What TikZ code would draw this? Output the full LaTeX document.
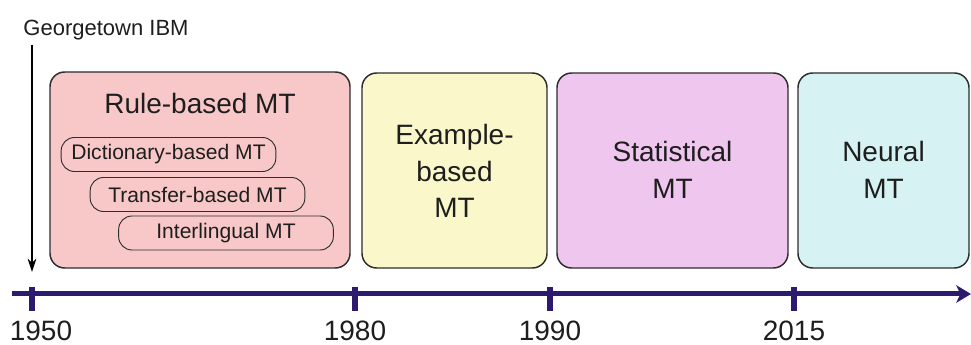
\documentclass[tikz,border=0pt]{standalone}
\usepackage{fontspec}
\setmainfont{Liberation Sans}
\usepackage{tikz}
\usetikzlibrary{arrows.meta}

\definecolor{boxline}{RGB}{45,45,45}
\definecolor{txtgray}{RGB}{30,30,30}
\definecolor{rulefill}{RGB}{248,200,200}
\definecolor{examplefill}{RGB}{250,248,202}
\definecolor{statfill}{RGB}{238,198,238}
\definecolor{neuralfill}{RGB}{214,242,242}
\definecolor{tlcolor}{RGB}{45,25,110}

\begin{document}
\begin{tikzpicture}[x=0.75pt,y=0.75pt,yscale=-1,xscale=1,
    era/.style={draw=boxline, line width=1.1pt, rounded corners=11pt, inner sep=0pt},
    subera/.style={draw=boxline, line width=0.7pt, rounded corners=10pt, inner sep=0pt,
        minimum width=161pt, minimum height=25.5pt, text=txtgray, font=\fontsize{15.8}{18}\selectfont},
    bigtxt/.style={align=center, text=txtgray, font=\fontsize{21}{27.5}\selectfont},
    yearlbl/.style={text=txtgray, inner sep=0pt, font=\fontsize{21}{25}\selectfont},
    tickmark/.style={draw=tlcolor, line width=4.5pt},
    timeline/.style={draw=tlcolor, line width=3.75pt, -{Stealth[length=11pt,width=13pt,inset=3pt]}}
    ]
        \useasboundingbox (0,0) rectangle (971,345);

        %Shape: Rounded Rect [id:rule]
        \node [era, fill=rulefill, minimum width=225pt, minimum height=147pt] (rule) at (200,170) {};
        %Shape: Rounded Rect [id:example]
        \node [era, fill=examplefill, minimum width=138.75pt, minimum height=146.25pt] (example) at (454.5,170.5) {};
        %Shape: Rounded Rect [id:stat]
        \node [era, fill=statfill, minimum width=173.25pt, minimum height=146.25pt] (stat) at (672.5,170.5) {};
        %Shape: Rounded Rect [id:neural]
        \node [era, fill=neuralfill, minimum width=128.25pt, minimum height=146.25pt] (neural) at (883.5,170.5) {};

        %Shape: Rounded Rect [id:dict]
        \node [subera] (dict) at (168.5,154.5) {Dictionary-based MT};
        %Shape: Rounded Rect [id:transfer]
        \node [subera] (transfer) at (197.5,194.5) {Transfer-based MT};
        %Shape: Rounded Rect [id:inter]
        \node [subera] (inter) at (226,233) {Interlingual MT};

        % Text Node
        \node [bigtxt] (ruletitle) at (200,103.5) {Rule-based MT};
        % Text Node
        \node [bigtxt] (exampletxt) at (454.5,171) {Example-\\based\\MT};
        % Text Node
        \node [bigtxt] (stattxt) at (672.5,170) {Statistical\\MT};
        % Text Node
        \node [bigtxt] (neuraltxt) at (883.5,170) {Neural\\MT};

        %Straight Lines [id:timeline]
        \coordinate (tlstart) at (12,294);
        \coordinate (tlend) at (971,294);
        \draw [timeline] (tlstart) -- (tlend);
        \foreach \x/\lx/\yr in {32/41/1950,355/355/1980,550/550/1990,794/794/2015}{
            \draw [tickmark] (\x,287) -- (\x,311);
            \node [yearlbl] (y\yr) at (\lx,331) {\yr};
        }

        % Text Node
        \node [text=txtgray, font=\fontsize{16.5}{19}\selectfont] (gtown) at (106,30) {Georgetown IBM};
        %Straight Lines [id:gtownarrow]
        \coordinate (gtip) at (32,272);
        \draw [line width=0.9pt, -{Stealth[length=10pt,width=6.5pt]}] (gtown.south -| gtip) -- (gtip);

\end{tikzpicture}
\end{document}
